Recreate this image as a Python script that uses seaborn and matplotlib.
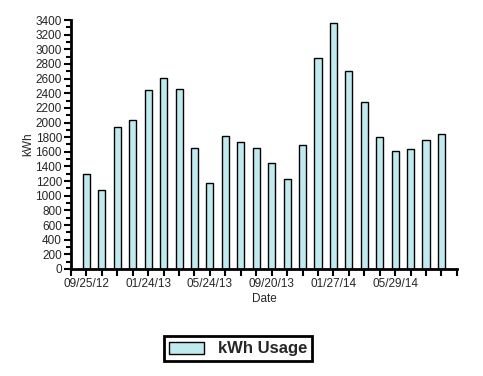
import matplotlib
matplotlib.use('Agg')
import matplotlib.pyplot as plt
from matplotlib.ticker import MultipleLocator
import pandas as pd
import seaborn as sn

# monthly bills, values
bill_no = list(range(1, 25))
kwh = [1300, 1080, 1940, 2030, 2440, 2605, 2460, 1650,
       1178, 1818, 1730, 1650, 1445, 1228, 1692, 2878,
       3358, 2705, 2280, 1806, 1608, 1635, 1760, 1842]
tick_labels = ['09/25/12', '01/24/13', '05/24/13', '09/20/13', '01/27/14', '05/29/14']

sn.set_style('ticks')
plt.rcParams['font.family'] = ['Liberation Sans', 'DejaVu Sans']

df = pd.DataFrame({'bill': bill_no, 'kWh': kwh})

fig = plt.figure(figsize=(4.83, 3.76), dpi=100)
ax = fig.add_axes([0.147, 0.2846, 0.799, 0.6622])

sn.barplot(data=df, x='bill', y='kWh', color='#BEEBF0', saturation=1,
           edgecolor='black', linewidth=1.0, width=0.46, label='kWh Usage', ax=ax)

ax.set_xlim(-1, 24)
ax.set_ylim(0, 3400)
ax.yaxis.set_major_locator(MultipleLocator(200))
ax.yaxis.set_minor_locator(MultipleLocator(100))

ax.set_xticks(range(-1, 25))
labels = [''] * 26
for i, t in enumerate(tick_labels):
    labels[1 + i * 4] = t
ax.set_xticklabels(labels)

for side in ['top', 'right']:
    ax.spines[side].set_visible(False)
for side in ['left', 'bottom']:
    ax.spines[side].set_linewidth(2)
    ax.spines[side].set_color('black')

ax.tick_params(axis='both', which='major', length=5, width=1.5, labelsize=8.5,
               color='black', pad=1.5)
ax.tick_params(axis='y', which='minor', length=3.5, width=1.5, color='black')
ax.set_xlabel('Date', fontsize=8.5, labelpad=2)
ax.set_ylabel('kWh', fontsize=8.5, labelpad=1)

handles, names = ax.get_legend_handles_labels()
if ax.get_legend() is not None:
    ax.get_legend().remove()
leg = fig.legend(handles, names, loc='center', bbox_to_anchor=(0.493, 0.072),
                 prop={'size': 12, 'weight': 'bold'}, handlelength=2.1,
                 handleheight=0.75, fancybox=False, framealpha=1,
                 borderpad=0.3, borderaxespad=0, handletextpad=0.8)
leg.get_frame().set_edgecolor('black')
leg.get_frame().set_linewidth(2)

fig.savefig('out.png', dpi=100, facecolor='white')
